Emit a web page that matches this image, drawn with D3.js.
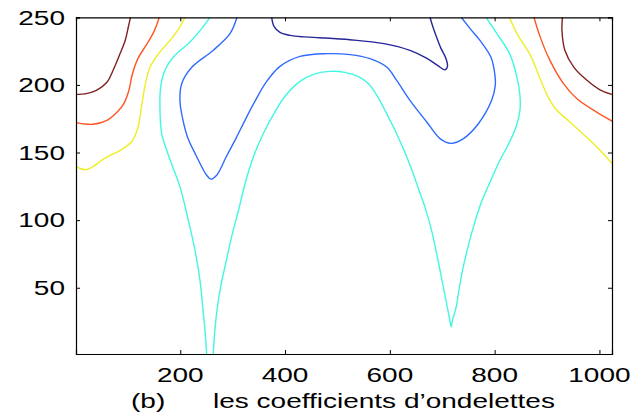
<!DOCTYPE html>
<html><head><meta charset="utf-8">
<script src="https://cdn.jsdelivr.net/npm/d3@7"></script>
<style>html,body{margin:0;padding:0;background:#fff;}svg{display:block;}</style>
</head><body>
<svg id="chart" width="637" height="418"></svg>
<script>
// ---- data (x: 1..1024, y: 1..250) ----
const xTicks = [200, 400, 600, 800, 1000];
const yTicks = [50, 100, 150, 200, 250];
const xLabelTag = "(b)";
const xLabelText = "les coefficients d\u2019ondelettes";

const darkRedLeft = [[105,250],[101,243],[95,233],[85,223],[72,211],[60,202],[40,196],[21,193.6],[1,193]];
const orangeLeft = [[160,250],[150,239.6],[134.6,229.2],[119.3,219.6],[108,207.1],[102,196],[92.6,186.4],[79.2,179.7],[60.2,173.8],[33.4,170.9],[14.4,171.2],[1,172.1]];
const yellowLeft = [[209,250],[197.6,241.8],[180.4,232.9],[157.5,222.6],[142.2,213],[133.6,201.2],[127,186.4],[119.3,168.7],[107.9,158.3],[86.9,152],[56.3,145.8],[33.4,139.6],[22,137.4],[8.6,138.2],[1,139.9]];
const cyanLeft = [[256.7,250],[240.9,241.6],[218.6,231.7],[186.7,220.6],[170.8,210.8],[162.6,198.4],[161.3,181.2],[164.5,164],[174.1,151.7],[182.3,142.8],[199.5,124.6],[215.3,100],[228.1,77.8],[237.6,55.7],[243.4,33.5],[247.2,18.7],[250.4,1]];
const cyanMain = [[263,1],[265.3,15],[270.1,33.5],[277.7,52],[287.3,69],[298.7,88.9],[312.1,108.8],[325.4,129.5],[340.7,148],[357.9,163.5],[376.9,177.5],[399.9,191.6],[428.5,202.6],[457.1,208.2],[485.7,210],[514.4,209.3],[539.2,206.3],[558.3,201.2],[575.4,192.3],[592.6,179.7],[609.8,166.5],[627,151.7],[642.2,136.9],[655.6,122.1],[668.9,107.4],[680.4,91.1],[689.9,74.1],[699.5,55.7],[708.1,38.7],[713.8,27.6],[717.2,21.2],[719.5,26.1],[726.2,35],[731.9,48.3],[739.6,64.5],[749.1,80],[760.5,96.3],[773.9,112.5],[791.1,128],[810.2,144.3],[827.3,156.8],[840.7,168.7],[848.3,181.2],[848.3,192.3],[842.6,205.6],[829.2,222.6],[804.4,237.9],[783.4,250]];
const blue = [[308.3,250],[294.9,237.9],[262.5,225.5],[222.4,213.2],[202.7,200.9],[199.5,187.9],[205.2,173.8],[214.7,160.5],[230,148],[250.4,133.2],[258.6,130.3],[269.5,133.2],[287.3,146.5],[306.3,160.5],[325.4,175.3],[344.5,189.3],[363.6,201.9],[390.3,213.7],[428.5,221.1],[479.4,223.1],[523.9,222.4],[562.1,219.4],[594,213.2],[613,203.4],[638.4,188.6],[670.8,172.4],[695.7,160.3],[716.7,156.8],[740.5,160.3],[768.2,170.9],[794.3,188.6],[801.2,199.7],[800.6,207.1],[793,220.4],[772,232.9],[752.9,241.8],[736.3,250]];
const navy = [[374.5,250],[378.9,243.3],[390.3,238.8],[409.4,236.6],[438,235.5],[466.6,234.9],[523.9,233.4],[588.8,230.5],[638.4,225.5],[670.8,219.6],[693.7,213.7],[705.2,211.1],[710,213.7],[707.1,219.6],[697.6,227],[688,236.6],[681.3,244],[676.6,250]];
const yellowRight = [[828.3,250],[842.6,237.9],[867.4,222.6],[886.5,204.9],[902.3,191],[917,182],[943.7,172.6],[972.4,162.4],[1001,151.7],[1024,141.9]];
const orangeRight = [[875,250],[886.5,235.9],[905.6,218.1],[931.4,200.9],[957.1,189.7],[995.3,179.7],[1024,173.3]];
const darkRedRight = [[929.4,250],[928.5,240.3],[934.2,225.5],[951.4,213],[976.2,203.4],[1001,196.4],[1024,193]];

// ---- styling ----
const contours = [
  {pts: darkRedLeft, color: "#802020"},
  {pts: orangeLeft, color: "#ff5522"},
  {pts: yellowLeft, color: "#eeee22"},
  {pts: cyanLeft, color: "#40f8e0"},
  {pts: cyanMain, color: "#40f8e0"},
  {pts: blue, color: "#2f6bff"},
  {pts: navy, color: "#262699"},
  {pts: yellowRight, color: "#eeee22"},
  {pts: orangeRight, color: "#ff5522"},
  {pts: darkRedRight, color: "#802020"}
];

const L = 76, R = 612, T = 17.3, B = 354;
const x = d3.scaleLinear().domain([1, 1024]).range([L, R]);
const y = d3.scaleLinear().domain([1, 250]).range([B, T]);
const svg = d3.select("#chart");
const font = "'Liberation Sans', Arial, Helvetica, sans-serif";
const SX = 1.4;

svg.append("defs").append("clipPath").attr("id", "clip")
  .append("rect").attr("x", L).attr("y", T).attr("width", R - L).attr("height", B - T);

const line = d3.line().x(d => x(d[0])).y(d => y(d[1])).curve(d3.curveCatmullRom.alpha(0.5));
svg.append("g").attr("clip-path", "url(#clip)")
  .selectAll("path").data(contours).join("path")
  .attr("d", d => line(d.pts))
  .attr("fill", "none").attr("stroke", d => d.color).attr("stroke-width", 1.4);

// axes
const tl = 4;
const axB = svg.append("g").attr("transform", `translate(0,${B})`)
  .call(d3.axisBottom(x).tickValues(xTicks).tickSize(-tl).tickFormat(""));
const axT = svg.append("g").attr("transform", `translate(0,${T})`)
  .call(d3.axisTop(x).tickValues(xTicks).tickSize(-tl).tickFormat(""));
const axL = svg.append("g").attr("transform", `translate(${L},0)`)
  .call(d3.axisLeft(y).tickValues(yTicks).tickSize(-tl).tickFormat(""));
const axR = svg.append("g").attr("transform", `translate(${R},0)`)
  .call(d3.axisRight(y).tickValues(yTicks).tickSize(-tl).tickFormat(""));
[axB, axT, axL, axR].forEach(a => {
  a.select(".domain").attr("stroke", "#000").attr("stroke-width", 1.2);
  a.selectAll(".tick line").attr("stroke", "#000").attr("stroke-width", 1);
});

// tick labels (horizontally stretched like reference)
svg.append("g").selectAll("g").data(xTicks).join("g")
  .attr("transform", d => `translate(${x(d)},381.5) scale(${SX},1)`)
  .append("text").attr("text-anchor", "middle").attr("font-family", font)
  .attr("font-size", 20).attr("fill", "#000").text(d => d);
svg.append("g").selectAll("g").data(yTicks).join("g")
  .attr("transform", d => `translate(65,${y(d) + 7.2}) scale(${SX},1)`)
  .append("text").attr("text-anchor", "end").attr("font-family", font)
  .attr("font-size", 20).attr("fill", "#000").text(d => d);

// x label
svg.append("g").attr("transform", `translate(131,408) scale(${SX},1)`)
  .append("text").attr("font-family", font).attr("font-size", 20).attr("fill", "#000").text(xLabelTag);
svg.append("g").attr("transform", `translate(213,408) scale(${SX},1)`)
  .append("text").attr("font-family", font).attr("font-size", 20).attr("fill", "#000").text(xLabelText);
</script>
</body></html>
